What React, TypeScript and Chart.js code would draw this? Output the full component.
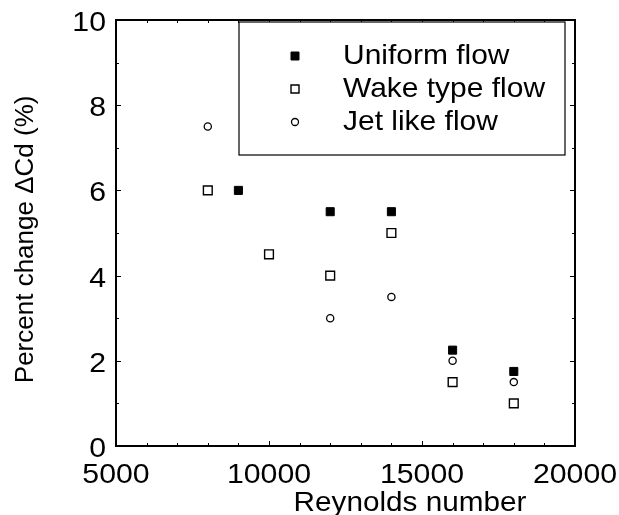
import React, { useEffect, useRef } from "react";
import { Chart, registerables } from "chart.js";

Chart.register(...registerables);

const uniformRe = [9000, 12000, 14000, 16000, 18000];
const uniformCd = [6, 5.5, 5.5, 2.25, 1.75];
const wakeRe = [8000, 10000, 12000, 14000, 16000, 18000];
const wakeCd = [6, 4.5, 4, 5, 1.5, 1];
const jetRe = [8000, 12000, 14000, 16000, 18000];
const jetCd = [7.5, 3, 3.5, 2, 1.5];

const seriesLabels = ["Uniform flow", "Wake type flow", "Jet like flow"];
const xTitle = "Reynolds number";
const yTitle = "Percent change \u0394Cd (%)";
const xMajorTicks = [5000, 10000, 15000, 20000];
const yMajorTicks = [0, 2, 4, 6, 8, 10];

const FONT = "'Liberation Sans', Arial, Helvetica, sans-serif";
const STRETCH = 1.08;

const toPts = (xs: number[], ys: number[]) => xs.map((x, i) => ({ x, y: ys[i] }));

function stretchedText(ctx: any, text: string, x: number, y: number, align: string, sx: number) {
  ctx.save();
  ctx.translate(x, y);
  ctx.scale(sx, 1);
  ctx.textAlign = align;
  ctx.fillText(text, 0, 0);
  ctx.restore();
}

const framePlugin = {
  id: "frameTicks",
  afterDraw(chart: any) {
    const { ctx, chartArea: a, scales } = chart;
    const xs = scales.x;
    const ys = scales.y;
    ctx.save();
    ctx.strokeStyle = "#000";
    // inward ticks
    ctx.lineWidth = 1;
    ctx.beginPath();
    for (let v = 5000; v <= 20000; v += 1000) {
      const px = Math.round(xs.getPixelForValue(v)) + 0.5;
      const len = xMajorTicks.includes(v) ? 5 : 3;
      ctx.moveTo(px, a.bottom);
      ctx.lineTo(px, a.bottom - len);
      ctx.moveTo(px, a.top);
      ctx.lineTo(px, a.top + len);
    }
    for (let v = 0; v <= 10; v += 1) {
      const py = Math.round(ys.getPixelForValue(v)) + 0.5;
      const len = yMajorTicks.includes(v) ? 5 : 3;
      ctx.moveTo(a.left, py);
      ctx.lineTo(a.left + len, py);
      ctx.moveTo(a.right, py);
      ctx.lineTo(a.right - len, py);
    }
    ctx.stroke();
    // frame
    ctx.lineWidth = 2;
    ctx.strokeRect(a.left, a.top, a.right - a.left, a.bottom - a.top);

    ctx.fillStyle = "#000";
    ctx.textBaseline = "alphabetic";

    // tick labels
    ctx.font = `28px ${FONT}`;
    xMajorTicks.forEach((v) => {
      stretchedText(ctx, String(v), xs.getPixelForValue(v), a.bottom + 37, "center", STRETCH);
    });
    yMajorTicks.forEach((v) => {
      stretchedText(ctx, String(v), a.left - 10, ys.getPixelForValue(v) + 11, "right", STRETCH);
    });

    // titles
    ctx.font = `27px ${FONT}`;
    stretchedText(ctx, xTitle, 410, 511, "center", 1.1);
    ctx.save();
    ctx.translate(33, a.top + (a.bottom - a.top) * 0.515);
    ctx.rotate(-Math.PI / 2);
    ctx.font = `26px ${FONT}`;
    ctx.textAlign = "center";
    ctx.fillText(yTitle, 0, 0);
    ctx.restore();

    // legend box
    const lx = a.left + 123;
    const ly = a.top + 2;
    const lw = 326;
    const lh = 133;
    ctx.lineWidth = 1.2;
    ctx.fillStyle = "#fff";
    ctx.fillRect(lx, ly, lw, lh);
    ctx.strokeRect(lx, ly, lw, lh);
    const rows = [ly + 34, ly + 67, ly + 100];
    chart.data.datasets.forEach((ds: any, i: number) => {
      const cy = rows[i];
      const cx = lx + 56;
      ctx.save();
      ctx.fillStyle = ds.pointBackgroundColor;
      ctx.strokeStyle = ds.pointBorderColor;
      ctx.lineWidth = ds.pointBorderWidth;
      ctx.beginPath();
      if (ds.pointStyle === "circle") {
        ctx.arc(cx, cy, 3.5, 0, Math.PI * 2);
      } else {
        ctx.rect(cx - 4, cy - 4, 8, 8);
      }
      ctx.fill();
      ctx.stroke();
      ctx.restore();
      ctx.fillStyle = "#000";
      ctx.font = `28px ${FONT}`;
      ctx.textBaseline = "middle";
      stretchedText(ctx, ds.label, lx + 104, cy, "left", 1.07);
    });
    ctx.restore();
  },
};

export default function App() {
  const ref = useRef<HTMLCanvasElement | null>(null);
  useEffect(() => {
    document.body.style.margin = "0";
    if (!ref.current) return;
    const chart = new Chart(ref.current, {
      type: "scatter",
      data: {
        datasets: [
          {
            label: seriesLabels[0],
            data: toPts(uniformRe, uniformCd),
            pointStyle: "rect",
            pointRadius: 5.7,
            pointBackgroundColor: "#000",
            pointBorderColor: "#000",
            pointBorderWidth: 1,
          },
          {
            label: seriesLabels[1],
            data: toPts(wakeRe, wakeCd),
            pointStyle: "rect",
            pointRadius: 6.2,
            pointBackgroundColor: "#fff",
            pointBorderColor: "#000",
            pointBorderWidth: 1.4,
          },
          {
            label: seriesLabels[2],
            data: toPts(jetRe, jetCd),
            pointStyle: "circle",
            pointRadius: 3.6,
            pointBackgroundColor: "#fff",
            pointBorderColor: "#000",
            pointBorderWidth: 1.3,
          },
        ] as any,
      },
      options: {
        animation: false,
        responsive: false,
        maintainAspectRatio: false,
        layout: { padding: { top: 20, right: 44, left: 0, bottom: 0 } },
        plugins: {
          legend: { display: false },
          tooltip: { enabled: false },
        },
        scales: {
          x: {
            type: "linear",
            min: 5000,
            max: 20000,
            grid: { display: false, drawTicks: false },
            border: { display: false },
            ticks: { display: false, stepSize: 1000 },
            afterFit: (s: any) => {
              s.height = 69;
            },
          },
          y: {
            type: "linear",
            min: 0,
            max: 10,
            grid: { display: false, drawTicks: false },
            border: { display: false },
            ticks: { display: false, stepSize: 1 },
            afterFit: (s: any) => {
              s.width = 116;
            },
          },
        },
      },
      plugins: [framePlugin],
    });
    return () => chart.destroy();
  }, []);
  return <canvas ref={ref} width={619} height={515} style={{ display: "block" }} />;
}
